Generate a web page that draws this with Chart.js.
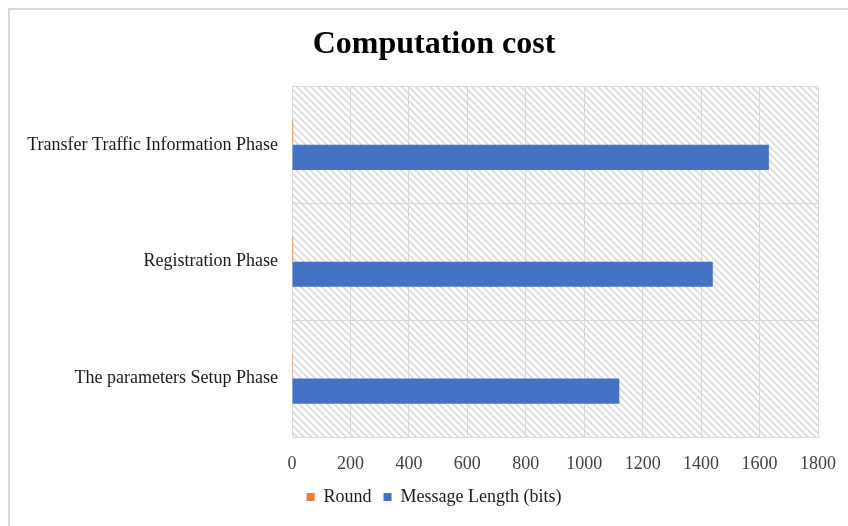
<!DOCTYPE html>
<html>
<head>
<meta charset="utf-8">
<title>Computation cost</title>
<script src="https://cdn.jsdelivr.net/npm/chart.js@4.4.1/dist/chart.umd.min.js"></script>
<style>
    html, body { margin: 0; padding: 0; background: #ffffff; }
    #wrap { width: 848px; height: 526px; position: relative; }
</style>
</head>
<body>
<div id="wrap"><canvas id="costChart" width="848" height="526"></canvas></div>
<script>
// ===== Dữ liệu biểu đồ =====
const phases = [
    'Transfer Traffic Information Phase',
    'Registration Phase',
    'The parameters Setup Phase'
];
const roundValues = [4, 4, 3];
const messageLengthBits = [1632, 1440, 1120];
const xTicks = [0, 200, 400, 600, 800, 1000, 1200, 1400, 1600, 1800];

const SERIF = '"Liberation Serif", "Times New Roman", serif';
const GRID = '#d9d9d9';

// Mẫu gạch chéo cho nền vùng vẽ
function makeHatch() {
    const size = 7;
    const c = document.createElement('canvas');
    c.width = size; c.height = size;
    const g = c.getContext('2d');
    g.fillStyle = '#ffffff';
    g.fillRect(0, 0, size, size);
    g.strokeStyle = '#dadada';
    g.lineWidth = 1.6;
    g.beginPath();
    g.moveTo(-1, -1); g.lineTo(size + 1, size + 1);
    g.moveTo(-1, size - 1); g.lineTo(1, size + 1);
    g.moveTo(size - 1, -1); g.lineTo(size + 1, 1);
    g.stroke();
    return g.createPattern(c, 'repeat');
}

// Khung viền + nền gạch chéo
const backgroundPlugin = {
    id: 'backgroundPlugin',
    beforeDraw(chart) {
        const ctx = chart.ctx;
        const a = chart.chartArea;
        ctx.save();
        ctx.strokeStyle = '#d9d9d9';
        ctx.lineWidth = 2;
        ctx.beginPath();
        ctx.moveTo(9, chart.height);
        ctx.lineTo(9, 9);
        ctx.lineTo(chart.width, 9);
        ctx.stroke();
        ctx.fillStyle = makeHatch();
        ctx.fillRect(a.left, a.top, a.right - a.left, a.bottom - a.top);
        ctx.restore();
    }
};

const ctx = document.getElementById('costChart').getContext('2d');
new Chart(ctx, {
    type: 'bar',
    data: {
        labels: phases,
        datasets: [{
            label: 'Round',
            data: roundValues,
            backgroundColor: '#ED7D31',
            categoryPercentage: 0.43,
            barPercentage: 1.0
        }, {
            label: 'Message Length (bits)',
            data: messageLengthBits,
            backgroundColor: '#4472C4',
            categoryPercentage: 0.43,
            barPercentage: 1.0
        }]
    },
    plugins: [backgroundPlugin],
    options: {
        indexAxis: 'y',
        responsive: false,
        animation: false,
        layout: { padding: { top: 10, right: 30, bottom: 10, left: 50 } },
        scales: {
            x: {
                min: 0,
                max: 1800,
                afterBuildTicks: (axis) => { axis.ticks = xTicks.map(v => ({ value: v })); },
                // thu gọn trục để vùng vẽ kéo xuống gần chú thích, bỏ lề nhãn cuối
                afterFit: (axis) => {
                    axis.height -= 15;
                    axis.paddingRight = 0;
                    axis.paddingLeft = 0;
                },
                grid: { color: GRID, lineWidth: 1, drawTicks: false },
                border: { color: GRID, width: 1 },
                ticks: {
                    color: '#404040',
                    font: { family: SERIF, size: 18, lineHeight: 1 },
                    padding: 18,
                    callback: (value) => String(value)
                }
            },
            y: {
                grid: { color: GRID, lineWidth: 1, drawTicks: false, offset: true },
                border: { color: GRID, width: 1 },
                ticks: {
                    color: '#1a1a1a',
                    font: { family: SERIF, size: 18 },
                    padding: 14
                },
                afterFit: (axis) => { axis.width = 242; },
                // nhãn dài tràn sang lề trái, không cắt theo khung trục
                afterUpdate: (axis) => { axis._computeLabelArea = () => undefined; }
            }
        },
        plugins: {
            title: {
                display: true,
                text: 'Computation cost',
                color: '#000000',
                font: { family: SERIF, size: 32, weight: 'bold' },
                padding: { top: 16, bottom: 22 }
            },
            legend: {
                position: 'bottom',
                labels: {
                    color: '#1a1a1a',
                    font: { family: SERIF, size: 18, lineHeight: 1 },
                    boxWidth: 8,
                    boxHeight: 8,
                    padding: 12
                }
            },
            tooltip: { enabled: false }
        }
    }
});
</script>
</body>
</html>
